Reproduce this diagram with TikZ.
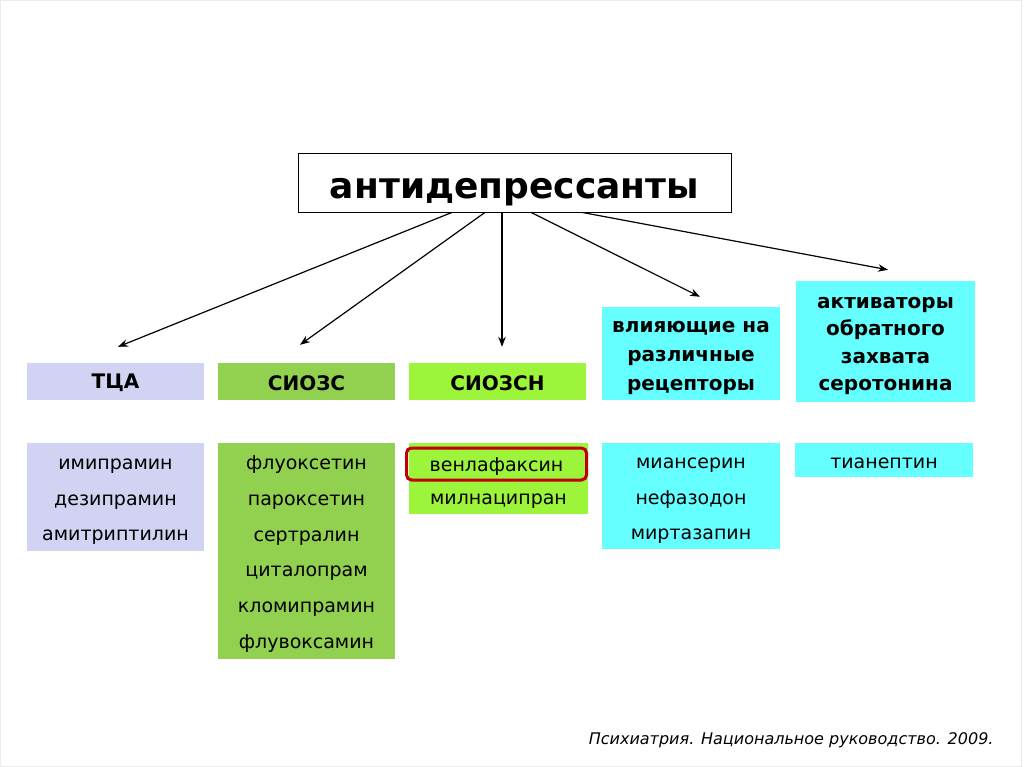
\documentclass[tikz,border=0pt]{standalone}
\usepackage{fontspec}
\setmainfont{DejaVu Sans}[ItalicFont={DejaVu Sans Oblique}, BoldFont={DejaVu Sans Bold}]
\usetikzlibrary{arrows.meta}
\definecolor{tcacol}{HTML}{D2D2F2}
\definecolor{ssricol}{HTML}{92D050}
\definecolor{snricol}{HTML}{9CF53A}
\definecolor{cyancol}{HTML}{66FFFF}
\definecolor{redcol}{HTML}{C00000}
\newcommand{\lowstrut}{\rule{0pt}{20pt}}
\begin{document}
\begin{tikzpicture}[x=1pt, y=-1pt,
  block/.style={rectangle, inner sep=0pt, minimum width=177pt, align=center},
  single/.style={execute at begin node={\rule{0pt}{18pt}}},
  head/.style={block, font=\fontsize{20}{29}\selectfont\bfseries},
  list/.style={block, font=\fontsize{19}{35.8}\selectfont},
  arr/.style={-{Stealth[length=10pt,width=7.5pt]}, line width=1.2pt}
]
  \useasboundingbox (0,0) rectangle (1024,767);
  \draw[black!8] (0.5,0.5) rectangle (1021,766.5);

  % Root
  \node[draw, line width=0.8pt, fill=white, minimum width=433pt, minimum height=59pt,
        text height=32pt, text depth=0pt, inner sep=0pt,
        font=\fontsize{36}{42}\selectfont\bfseries] (root) at (514.5,182.5) {антидепрессанты};

  % Groups
  \node[head, single, fill=tcacol, minimum height=37pt] (tca) at (115.5,381.5) {ТЦА};
  \node[head, single, fill=ssricol, minimum height=37pt] (ssri) at (306.5,381.5) {СИОЗС};
  \node[head, single, fill=snricol, minimum height=37pt] (snri) at (497.5,381.5) {СИОЗСН};
  \node[head, fill=cyancol, minimum width=178pt, minimum height=93pt] (recep) at (691,353.5)
        {\lowstrut влияющие на\\различные\\рецепторы};
  \node[head, fill=cyancol, minimum width=179pt, minimum height=121pt,
        font=\fontsize{20}{27.5}\selectfont\bfseries] (activ) at (885.5,341.5)
        {\lowstrut активаторы\\обратного\\захвата\\серотонина};

  % Drugs
  \node[list, fill=tcacol, minimum height=108pt] (tcalist) at (115.5,497)
        {\lowstrut имипрамин\\дезипрамин\\амитриптилин};
  \node[list, fill=ssricol, minimum height=216pt] (ssrilist) at (306.5,551)
        {\lowstrut флуоксетин\\пароксетин\\сертралин\\циталопрам\\кломипрамин\\флувоксамин};
  \node[block, fill=snricol, minimum width=179pt, minimum height=71pt] (snrilist) at (498.5,478.5) {};
  \node[list, single, draw=redcol, line width=3pt, rounded corners=5pt, minimum width=180pt,
        minimum height=32pt] (venla) at (496.5,464) {венлафаксин};
  \node[list, single] (milna) at (498.5,497) {милнаципран};
  \node[list, fill=cyancol, minimum width=178pt, minimum height=106pt] (reclist) at (691,496)
        {\lowstrut миансерин\\нефазодон\\миртазапин};
  \node[list, single, fill=cyancol, minimum width=178pt, minimum height=34pt] (actlist) at (884,460) {тианептин};

  % Arrows
  \draw[arr] ([xshift=-62.5pt]root.south) -- ([xshift=2.5pt,yshift=16pt]tca.north);
  \draw[arr] ([xshift=-29.5pt]root.south) -- ([xshift=-6.5pt,yshift=18pt]ssri.north);
  \draw[arr] ([xshift=-12.5pt]root.south) -- ([xshift=4.5pt,yshift=16pt]snri.north);
  \draw[arr] ([xshift=16.5pt]root.south) -- ([xshift=9pt,yshift=10pt]recep.north);
  \draw[arr] ([xshift=67.5pt]root.south) -- ([xshift=2.5pt,yshift=11pt]activ.north);

  % Source
  \node[font=\fontsize{16}{20}\selectfont\itshape, anchor=east] (source) at (997,740)
        {Психиатрия. Национальное руководство. 2009.};
\end{tikzpicture}
\end{document}
